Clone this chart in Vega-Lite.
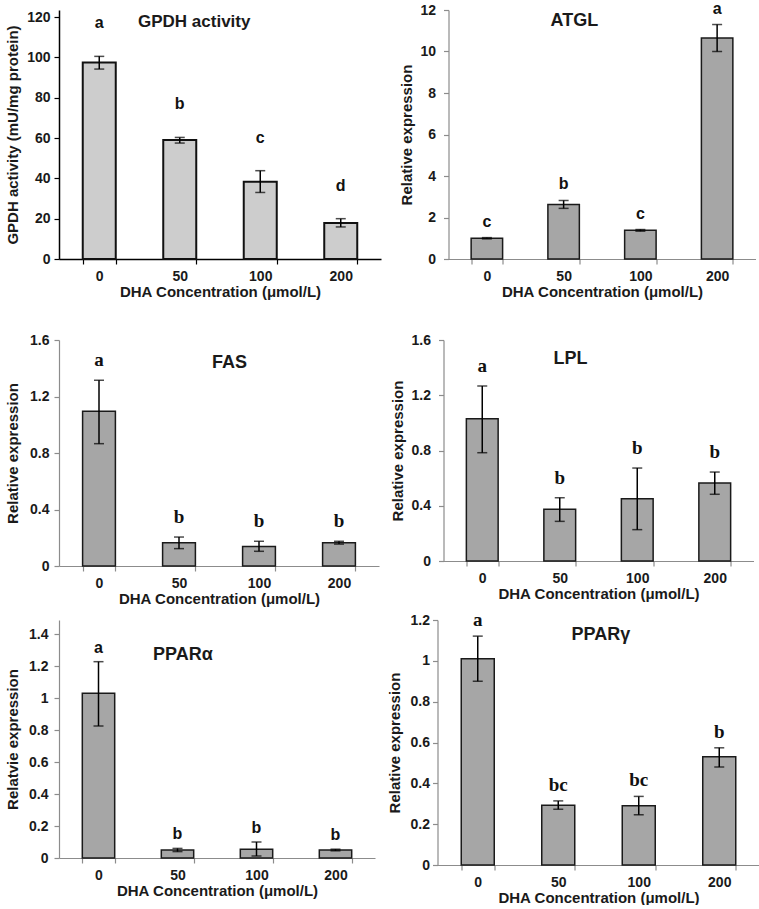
{
  "$schema": "https://vega.github.io/schema/vega-lite/v6.json",
  "padding": {"left": 5, "top": 0, "right": 0, "bottom": 0},
  "background": "white",
  "datasets": {
    "gpdh": [
      {"dha": "0", "mean": 97.5, "lo": 94.2, "hi": 100.5, "sig": "a"},
      {"dha": "50", "mean": 59, "lo": 57.5, "hi": 60.3, "sig": "b"},
      {"dha": "100", "mean": 38.3, "lo": 33, "hi": 43.8, "sig": "c"},
      {"dha": "200", "mean": 17.8, "lo": 15.9, "hi": 20, "sig": "d"}
    ],
    "atgl": [
      {"dha": "0", "mean": 1.0, "lo": 0.97, "hi": 1.03, "sig": "c"},
      {"dha": "50", "mean": 2.63, "lo": 2.44, "hi": 2.82, "sig": "b"},
      {"dha": "100", "mean": 1.38, "lo": 1.34, "hi": 1.42, "sig": "c"},
      {"dha": "200", "mean": 10.65, "lo": 10.0, "hi": 11.3, "sig": "a"}
    ],
    "fas": [
      {"dha": "0", "mean": 1.095, "lo": 0.866, "hi": 1.315, "sig": "a"},
      {"dha": "50", "mean": 0.165, "lo": 0.123, "hi": 0.205, "sig": "b"},
      {"dha": "100", "mean": 0.138, "lo": 0.104, "hi": 0.175, "sig": "b"},
      {"dha": "200", "mean": 0.165, "lo": 0.155, "hi": 0.175, "sig": "b"}
    ],
    "lpl": [
      {"dha": "0", "mean": 1.03, "lo": 0.784, "hi": 1.267, "sig": "a"},
      {"dha": "50", "mean": 0.375, "lo": 0.287, "hi": 0.458, "sig": "b"},
      {"dha": "100", "mean": 0.45, "lo": 0.227, "hi": 0.673, "sig": "b"},
      {"dha": "200", "mean": 0.565, "lo": 0.483, "hi": 0.644, "sig": "b"}
    ],
    "ppara": [
      {"dha": "0", "mean": 1.03, "lo": 0.825, "hi": 1.227, "sig": "a"},
      {"dha": "50", "mean": 0.05, "lo": 0.04, "hi": 0.06, "sig": "b"},
      {"dha": "100", "mean": 0.055, "lo": 0.0125, "hi": 0.1, "sig": "b"},
      {"dha": "200", "mean": 0.05, "lo": 0.045, "hi": 0.055, "sig": "b"}
    ],
    "pparg": [
      {"dha": "0", "mean": 1.01, "lo": 0.9, "hi": 1.121, "sig": "a"},
      {"dha": "50", "mean": 0.293, "lo": 0.273, "hi": 0.314, "sig": "bc"},
      {"dha": "100", "mean": 0.29, "lo": 0.246, "hi": 0.336, "sig": "bc"},
      {"dha": "200", "mean": 0.53, "lo": 0.48, "hi": 0.574, "sig": "b"}
    ]
  },
  "spacing": 34,
  "vconcat": [
    {
      "spacing": 18.5,
      "hconcat": [
        {
          "width": 322, "height": 249,
          "data": {"name": "gpdh"},
          "title": {"text": "GPDH activity", "dx": 79, "offset": -21, "fontSize": 17},
          "encoding": {"x": {"field": "dha", "type": "ordinal", "sort": null, "scale": {"paddingInner": 0.59, "paddingOuter": 0.295}, "axis": {"title": "DHA Concentration (μmol/L)", "domainColor": "#000", "tickColor": "#000", "domainWidth": 1.5}}},
          "layer": [
            {"mark": {"type": "bar", "fill": "#cdcdcd", "stroke": "#111", "strokeWidth": 2},
             "encoding": {"y": {"field": "mean", "type": "quantitative", "title": "GPDH activity (mU/mg protein)", "scale": {"domain": [0, 123.5], "nice": false}, "axis": {"values": [0, 20, 40, 60, 80, 100, 120], "format": "~f", "tickCount": 20, "domainColor": "#000", "tickColor": "#000", "domainWidth": 1.5, "labelPadding": 4, "titlePadding": 6}}}},
            {"mark": {"type": "rule", "color": "#000", "strokeWidth": 1.5}, "encoding": {"y": {"field": "lo", "type": "quantitative", "title": "GPDH activity (mU/mg protein)"}, "y2": {"field": "hi"}}},
            {"mark": {"type": "tick", "color": "#000", "thickness": 1.5, "size": 10}, "encoding": {"y": {"field": "lo", "type": "quantitative", "title": "GPDH activity (mU/mg protein)"}}},
            {"mark": {"type": "tick", "color": "#000", "thickness": 1.5, "size": 10}, "encoding": {"y": {"field": "hi", "type": "quantitative", "title": "GPDH activity (mU/mg protein)"}}},
            {"mark": {"type": "text", "font": "Liberation Sans", "fontWeight": "bold", "fontSize": 16, "baseline": "middle", "dy": -33, "color": "#111"}, "encoding": {"y": {"field": "hi", "type": "quantitative", "title": "GPDH activity (mU/mg protein)"}, "text": {"field": "sig"}}}
          ]
        },
        {
          "width": 307, "height": 249,
          "data": {"name": "atgl"},
          "title": {"text": "ATGL", "dx": 102, "offset": -29},
          "encoding": {"x": {"field": "dha", "type": "ordinal", "sort": null, "scale": {"paddingInner": 0.59, "paddingOuter": 0.295}, "axis": {"title": "DHA Concentration (μmol/L)"}}},
          "layer": [
            {"mark": {"type": "bar", "fill": "#a6a6a6", "stroke": "#1a1a1a", "strokeWidth": 1.5},
             "encoding": {"y": {"field": "mean", "type": "quantitative", "title": "Relative expression", "scale": {"domain": [0, 12], "nice": false}, "axis": {"values": [0, 2, 4, 6, 8, 10, 12], "format": "~f", "tickCount": 20, "labelPadding": 8, "titlePadding": 5}}}},
            {"mark": {"type": "rule", "color": "#000", "strokeWidth": 1.5}, "encoding": {"y": {"field": "lo", "type": "quantitative", "title": "Relative expression"}, "y2": {"field": "hi"}}},
            {"mark": {"type": "tick", "color": "#000", "thickness": 1.5, "size": 10}, "encoding": {"y": {"field": "lo", "type": "quantitative", "title": "Relative expression"}}},
            {"mark": {"type": "tick", "color": "#000", "thickness": 1.5, "size": 10}, "encoding": {"y": {"field": "hi", "type": "quantitative", "title": "Relative expression"}}},
            {"mark": {"type": "text", "font": "Liberation Sans", "fontWeight": "bold", "fontSize": 16, "baseline": "middle", "dy": -16, "color": "#111"}, "encoding": {"y": {"field": "hi", "type": "quantitative", "title": "Relative expression"}, "text": {"field": "sig"}}}
          ]
        }
      ]
    },
    {
      "spacing": 5,
      "vconcat": [
        {
          "spacing": 10.5,
          "hconcat": [
            {
              "width": 320, "height": 226,
              "data": {"name": "fas"},
              "title": {"text": "FAS", "dx": 153, "offset": -39},
              "encoding": {"x": {"field": "dha", "type": "ordinal", "sort": null, "scale": {"paddingInner": 0.59, "paddingOuter": 0.295}, "axis": {"title": "DHA Concentration (μmol/L)"}}},
              "layer": [
                {"mark": {"type": "bar", "fill": "#a6a6a6", "stroke": "#1a1a1a", "strokeWidth": 1.5},
                 "encoding": {"y": {"field": "mean", "type": "quantitative", "title": "Relative expression", "scale": {"domain": [0, 1.6], "nice": false}, "axis": {"values": [0, 0.4, 0.8, 1.2, 1.6], "format": "~f", "tickCount": 20, "labelPadding": 5, "titlePadding": 9}}}},
                {"mark": {"type": "rule", "color": "#000", "strokeWidth": 1.5}, "encoding": {"y": {"field": "lo", "type": "quantitative", "title": "Relative expression"}, "y2": {"field": "hi"}}},
                {"mark": {"type": "tick", "color": "#000", "thickness": 1.5, "size": 10}, "encoding": {"y": {"field": "lo", "type": "quantitative", "title": "Relative expression"}}},
                {"mark": {"type": "tick", "color": "#000", "thickness": 1.5, "size": 10}, "encoding": {"y": {"field": "hi", "type": "quantitative", "title": "Relative expression"}}},
                {"mark": {"type": "text", "font": "Liberation Serif", "fontWeight": "bold", "fontSize": 19, "baseline": "middle", "dy": -20, "color": "#111"}, "encoding": {"y": {"field": "hi", "type": "quantitative", "title": "Relative expression"}, "text": {"field": "sig"}}}
              ]
            },
            {
              "width": 310, "height": 221,
              "data": {"name": "lpl"},
              "title": {"text": "LPL", "dx": 110, "offset": -35},
              "encoding": {"x": {"field": "dha", "type": "ordinal", "sort": null, "scale": {"paddingInner": 0.59, "paddingOuter": 0.295}, "axis": {"title": "DHA Concentration (μmol/L)"}}},
              "layer": [
                {"mark": {"type": "bar", "fill": "#a6a6a6", "stroke": "#1a1a1a", "strokeWidth": 1.5},
                 "encoding": {"y": {"field": "mean", "type": "quantitative", "title": "Relative expression", "scale": {"domain": [0, 1.6], "nice": false}, "axis": {"values": [0, 0.4, 0.8, 1.2, 1.6], "format": "~f", "tickCount": 20, "labelPadding": 8, "titlePadding": 6}}}},
                {"mark": {"type": "rule", "color": "#000", "strokeWidth": 1.5}, "encoding": {"y": {"field": "lo", "type": "quantitative", "title": "Relative expression"}, "y2": {"field": "hi"}}},
                {"mark": {"type": "tick", "color": "#000", "thickness": 1.5, "size": 10}, "encoding": {"y": {"field": "lo", "type": "quantitative", "title": "Relative expression"}}},
                {"mark": {"type": "tick", "color": "#000", "thickness": 1.5, "size": 10}, "encoding": {"y": {"field": "hi", "type": "quantitative", "title": "Relative expression"}}},
                {"mark": {"type": "text", "font": "Liberation Serif", "fontWeight": "bold", "fontSize": 19, "baseline": "middle", "dy": -20, "color": "#111"}, "encoding": {"y": {"field": "hi", "type": "quantitative", "title": "Relative expression"}, "text": {"field": "sig"}}}
              ]
            }
          ]
        },
        {
          "spacing": 11.5,
          "hconcat": [
            {
              "width": 316, "height": 238,
              "data": {"name": "ppara"},
              "title": {"text": "PPARα", "dx": 94, "offset": -44},
              "encoding": {"x": {"field": "dha", "type": "ordinal", "sort": null, "scale": {"paddingInner": 0.59, "paddingOuter": 0.295}, "axis": {"title": "DHA Concentration (μmol/L)"}}},
              "layer": [
                {"mark": {"type": "bar", "fill": "#a6a6a6", "stroke": "#1a1a1a", "strokeWidth": 1.5},
                 "encoding": {"y": {"field": "mean", "type": "quantitative", "title": "Relatvie expression", "scale": {"domain": [0, 1.4875], "nice": false}, "axis": {"values": [0, 0.2, 0.4, 0.6, 0.8, 1, 1.2, 1.4], "format": "~f", "tickCount": 20, "labelPadding": 6, "titlePadding": 8}}}},
                {"mark": {"type": "rule", "color": "#000", "strokeWidth": 1.5}, "encoding": {"y": {"field": "lo", "type": "quantitative", "title": "Relatvie expression"}, "y2": {"field": "hi"}}},
                {"mark": {"type": "tick", "color": "#000", "thickness": 1.5, "size": 10}, "encoding": {"y": {"field": "lo", "type": "quantitative", "title": "Relatvie expression"}}},
                {"mark": {"type": "tick", "color": "#000", "thickness": 1.5, "size": 10}, "encoding": {"y": {"field": "hi", "type": "quantitative", "title": "Relatvie expression"}}},
                {"mark": {"type": "text", "font": "Liberation Sans", "fontWeight": "bold", "fontSize": 16, "baseline": "middle", "dy": -14, "color": "#111"}, "encoding": {"y": {"field": "hi", "type": "quantitative", "title": "Relatvie expression"}, "text": {"field": "sig"}}}
              ]
            },
            {
              "width": 322, "height": 245,
              "data": {"name": "pparg"},
              "title": {"text": "PPARγ", "dx": 134, "offset": -33},
              "encoding": {"x": {"field": "dha", "type": "ordinal", "sort": null, "scale": {"paddingInner": 0.59, "paddingOuter": 0.295}, "axis": {"title": "DHA Concentration (μmol/L)"}}},
              "layer": [
                {"mark": {"type": "bar", "fill": "#a6a6a6", "stroke": "#1a1a1a", "strokeWidth": 1.5},
                 "encoding": {"y": {"field": "mean", "type": "quantitative", "title": "Relative expression", "scale": {"domain": [0, 1.2], "nice": false}, "axis": {"values": [0, 0.2, 0.4, 0.6, 0.8, 1, 1.2], "format": "~f", "tickCount": 20, "labelPadding": 3, "titlePadding": 8}}}},
                {"mark": {"type": "rule", "color": "#000", "strokeWidth": 1.5}, "encoding": {"y": {"field": "lo", "type": "quantitative", "title": "Relative expression"}, "y2": {"field": "hi"}}},
                {"mark": {"type": "tick", "color": "#000", "thickness": 1.5, "size": 10}, "encoding": {"y": {"field": "lo", "type": "quantitative", "title": "Relative expression"}}},
                {"mark": {"type": "tick", "color": "#000", "thickness": 1.5, "size": 10}, "encoding": {"y": {"field": "hi", "type": "quantitative", "title": "Relative expression"}}},
                {"mark": {"type": "text", "font": "Liberation Serif", "fontWeight": "bold", "fontSize": 19, "baseline": "middle", "dy": -16, "color": "#111"}, "encoding": {"y": {"field": "hi", "type": "quantitative", "title": "Relative expression"}, "text": {"field": "sig"}}}
              ]
            }
          ]
        }
      ]
    }
  ],
  "config": {
    "view": {"stroke": null},
    "font": "Liberation Sans",
    "axis": {
      "labelFont": "Liberation Sans", "labelFontSize": 14, "labelFontWeight": "bold", "labelColor": "#1a1a1a",
      "titleFont": "Liberation Sans", "titleFontSize": 15, "titleFontWeight": "bold", "titleColor": "#1a1a1a",
      "domainColor": "#8c8c8c", "tickColor": "#8c8c8c", "domainWidth": 1.2, "tickWidth": 1.2, "tickSize": 5, "grid": false
    },
    "axisX": {"labelAngle": 0, "tickBand": "extent", "labelPadding": 5, "titlePadding": 1},
    "title": {"font": "Liberation Sans", "fontSize": 18, "fontWeight": "bold", "color": "#1a1a1a", "anchor": "start", "frame": "group", "baseline": "middle"}
  }
}
